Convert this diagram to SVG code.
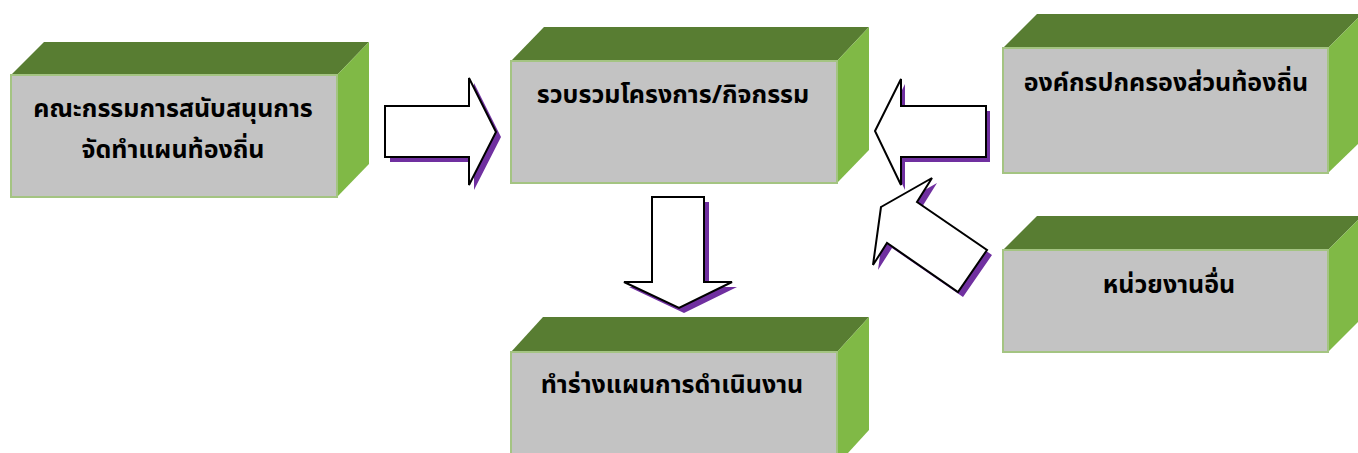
<svg xmlns="http://www.w3.org/2000/svg" width="1358" height="453" viewBox="0 0 1358 453">
<defs>
<style>
.top{fill:#587D32;}
.side{fill:#80B946;}
.front{fill:#C3C3C3;stroke:#A4C482;stroke-width:2;}
.lbl{font-family:"Noto Sans Thai","Noto Sans","DejaVu Sans",sans-serif;font-size:25px;font-weight:bold;fill:#000;text-anchor:middle;}
.shadow{fill:#7030A0;}
.arrow{fill:#fff;stroke:#000;stroke-width:2;stroke-linejoin:miter;}
</style>
</defs>
<rect width="1358" height="453" fill="#fff"/>
<g id="connectors">
<g id="arrow-left-to-center">
<polygon class="shadow" transform="translate(5,5)" points="385,106 469,106 469,78 496,132 469,185 469,157 385,157"/>
<polygon class="arrow" points="385,106 469,106 469,78 496,132 469,185 469,157 385,157"/>
</g>
<g id="arrow-right-to-center">
<polygon class="shadow" transform="translate(4,5)" points="986,106 901,106 901,79 875,131 901,185 901,157 986,157"/>
<polygon class="arrow" points="986,106 901,106 901,79 875,131 901,185 901,157 986,157"/>
</g>
<g id="arrow-other-to-center">
<polygon class="shadow" transform="translate(5,5)" points="881,207 932,178 917,202 987,250 958,292 887,243 873,265"/>
<polygon class="arrow" points="881,207 932,178 917,202 987,250 958,292 887,243 873,265"/>
</g>
<g id="arrow-center-down">
<polygon class="shadow" transform="translate(5,5)" points="652,197 704,197 704,282 732,282 679,308 624,282 652,282"/>
<polygon class="arrow" points="652,197 704,197 704,282 732,282 679,308 624,282 652,282"/>
</g>
</g>
<g id="node-committee">
<polygon class="top" points="11,75 44,42 369,42 337,75"/>
<polygon class="side" points="337,75 369,42 369,164 337,197"/>
<rect class="front" x="11" y="75" width="326" height="122"/>
<text class="lbl" x="173" y="117">คณะกรรมการสนับสนุนการ</text>
<text class="lbl" x="173" y="158">จัดทำแผนท้องถิ่น</text>
</g>
<g id="node-collect">
<polygon class="top" points="511,61 544,27 869,27 837,61"/>
<polygon class="side" points="837,61 869,27 869,150 837,183"/>
<rect class="front" x="511" y="61" width="326" height="122"/>
<text class="lbl" x="673" y="103">รวบรวมโครงการ/กิจกรรม</text>
</g>
<g id="node-local-gov">
<polygon class="top" points="1003,48 1037,14 1362,14 1328,48"/>
<polygon class="side" points="1328,48 1362,14 1362,140 1328,173"/>
<rect class="front" x="1003" y="48" width="325" height="125"/>
<text class="lbl" x="1166" y="91">องค์กรปกครองส่วนท้องถิ่น</text>
</g>
<g id="node-other">
<polygon class="top" points="1003,250 1037,216 1362,216 1328,250"/>
<polygon class="side" points="1328,250 1362,216 1362,318 1328,352"/>
<rect class="front" x="1003" y="250" width="325" height="102"/>
<text class="lbl" x="1169" y="293">หน่วยงานอื่น</text>
</g>
<g id="node-draft">
<polygon class="top" points="511,352 543,317 869,317 837,352"/>
<polygon class="side" points="837,352 869,317 869,430 837,465"/>
<rect class="front" x="511" y="352" width="326" height="120"/>
<text class="lbl" x="672" y="393">ทำร่างแผนการดำเนินงาน</text>
</g>
</svg>
